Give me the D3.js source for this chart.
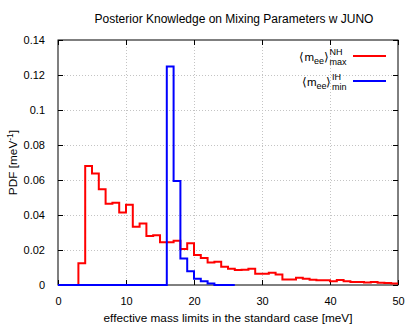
<!DOCTYPE html>
<html>
<head>
<meta charset="utf-8">
<script src="https://cdn.jsdelivr.net/npm/d3@7"></script>
<style>
  body { margin: 0; background: #fff; }
  text { font-family: "Liberation Sans", Arial, sans-serif; }
</style>
</head>
<body>
<div id="chart"></div>
<script>
// histogram data, 1 meV bins starting at 0 meV
const redPdf = [
  0, 0, 0, 0.0125, 0.068, 0.0637, 0.0547, 0.0465, 0.047, 0.0415,
  0.0459, 0.0333, 0.0352, 0.028, 0.0284, 0.0244, 0.0244, 0.0253, 0.0206, 0.0238,
  0.0172, 0.0155, 0.0128, 0.0133, 0.0105, 0.0093, 0.0086, 0.0087, 0.0093, 0.0065,
  0.0065, 0.007, 0.006, 0.0032, 0.0032, 0.0042, 0.0036, 0.003, 0.0027, 0.0027,
  0.0021, 0.0029, 0.0021, 0.0017, 0.0017, 0.0015, 0.0017, 0.0013, 0.0012, 0.0008,
];
const bluePdf = [
  0, 0, 0, 0, 0, 0, 0, 0, 0, 0,
  0, 0, 0, 0, 0, 0, 0.1248, 0.0594, 0.0152, 0.0078,
  0.0036, 0.0022, 0.0008, 0, 0, 0,
];
const xTicks = [0, 10, 20, 30, 40, 50];
const yTicks = [0, 0.02, 0.04, 0.06, 0.08, 0.1, 0.12, 0.14];

const width = 420, height = 327;
const margin = { top: 40, right: 22, bottom: 42, left: 58 };
const binWidth = 1;

const svg = d3
  .select("#chart")
  .append("svg")
  .attr("width", width)
  .attr("height", height);

const xScale = d3
  .scaleLinear()
  .domain([0, 50])
  .range([margin.left, width - margin.right]);

const yScale = d3
  .scaleLinear()
  .domain([0, 0.14])
  .range([height - margin.bottom, margin.top]);

// grid
const grid = svg.append("g").attr("stroke", "#c4c4c4").attr("stroke-width", 1).attr("stroke-dasharray", "1,2");
grid
  .selectAll(".gx")
  .data(xTicks.slice(1, -1))
  .enter()
  .append("line")
  .attr("x1", (d) => xScale(d) + 0.5)
  .attr("x2", (d) => xScale(d) + 0.5)
  .attr("y1", yScale(0))
  .attr("y2", yScale(0.14));
grid
  .selectAll(".gy")
  .data(yTicks.slice(1, -1))
  .enter()
  .append("line")
  .attr("y1", (d) => Math.round(yScale(d)) + 0.5)
  .attr("y2", (d) => Math.round(yScale(d)) + 0.5)
  .attr("x1", xScale(0))
  .attr("x2", xScale(50));

// axes (ticks inward, mirrored)
const fmtY = (d) => (d === 0 ? "0" : d3.format("~g")(d));
function styleAxis(g) {
  g.select(".domain").remove();
  g.selectAll(".tick line").attr("stroke", "#000");
  g.selectAll(".tick text").attr("font-size", 11).attr("fill", "#000");
}
svg
  .append("g")
  .attr("transform", "translate(0," + yScale(0) + ")")
  .call(d3.axisBottom(xScale).tickValues(xTicks).tickSizeInner(-5).tickPadding(12))
  .call(styleAxis);
svg
  .append("g")
  .attr("transform", "translate(0," + yScale(0.14) + ")")
  .call(d3.axisTop(xScale).tickValues(xTicks).tickSizeInner(-5).tickFormat(""))
  .call(styleAxis);
svg
  .append("g")
  .attr("transform", "translate(" + xScale(0) + ",0)")
  .call(d3.axisLeft(yScale).tickValues(yTicks).tickFormat(fmtY).tickSizeInner(-5).tickPadding(13))
  .call(styleAxis);
svg
  .append("g")
  .attr("transform", "translate(" + xScale(50) + ",0)")
  .call(d3.axisRight(yScale).tickValues(yTicks).tickSizeInner(-5).tickFormat(""))
  .call(styleAxis);

// frame
svg
  .append("rect")
  .attr("x", xScale(0))
  .attr("y", yScale(0.14))
  .attr("width", xScale(50) - xScale(0))
  .attr("height", yScale(0) - yScale(0.14))
  .attr("fill", "none")
  .attr("stroke", "#000")
  .attr("stroke-width", 1);

// step histograms
function stepPoints(values) {
  const pts = values.map((v, i) => [i * binWidth, v]);
  pts.push([values.length * binWidth, values[values.length - 1]]);
  return pts;
}
const stepLine = d3
  .line()
  .x((d) => xScale(d[0]))
  .y((d) => yScale(d[1]))
  .curve(d3.curveStepAfter);

svg
  .append("path")
  .attr("d", stepLine(stepPoints(redPdf)))
  .attr("fill", "none")
  .attr("stroke", "#ff0000")
  .attr("stroke-width", 2);
svg
  .append("path")
  .attr("d", stepLine(stepPoints(bluePdf)))
  .attr("fill", "none")
  .attr("stroke", "#0000ff")
  .attr("stroke-width", 2);

// title and labels
svg
  .append("text")
  .attr("x", 234)
  .attr("y", 23)
  .attr("text-anchor", "middle")
  .attr("font-size", 12)
  .text("Posterior Knowledge on Mixing Parameters w JUNO");

svg
  .append("text")
  .attr("x", (xScale(0) + xScale(50)) / 2)
  .attr("y", 322)
  .attr("text-anchor", "middle")
  .attr("font-size", 11.8)
  .text("effective mass limits in the standard case [meV]");

const yLabel = svg
  .append("text")
  .attr("transform", "translate(17," + (yScale(0.07)) + ") rotate(-90)")
  .attr("text-anchor", "middle")
  .attr("font-size", 11.8);
yLabel.append("tspan").text("PDF [meV");
yLabel.append("tspan").attr("font-size", 8.5).attr("dy", -4).text("-1");
yLabel.append("tspan").attr("dy", 4).text("]");

// legend
const legendItems = [
  { sup: "NH", sub: "max", color: "#ff0000", y: 56 },
  { sup: "IH", sub: "min", color: "#0000ff", y: 81 },
];
const legendRight = 346;
legendItems.forEach((item) => {
  const g = svg.append("g");
  const base = g.append("text").attr("font-size", 11.5).attr("y", item.y + 5);
  base.append("tspan").text("\u27E8m");
  base.append("tspan").attr("font-size", 9).attr("dy", 3).text("ee");
  base.append("tspan").attr("dy", -3).text("\u27E9");
  const baseW = base.node().getComputedTextLength();
  const sup = g.append("text").attr("font-size", 9).attr("y", item.y - 1).text(item.sup);
  const sub = g.append("text").attr("font-size", 9).attr("y", item.y + 9).text(item.sub);
  const scriptW = Math.max(sup.node().getComputedTextLength(), sub.node().getComputedTextLength());
  const x0 = legendRight - scriptW - baseW;
  base.attr("x", x0);
  sup.attr("x", x0 + baseW + 0.5);
  sub.attr("x", x0 + baseW + 0.5);
  g.append("line")
    .attr("x1", 353)
    .attr("x2", 386)
    .attr("y1", item.y)
    .attr("y2", item.y)
    .attr("stroke", item.color)
    .attr("stroke-width", 2);
});
</script>
</body>
</html>
